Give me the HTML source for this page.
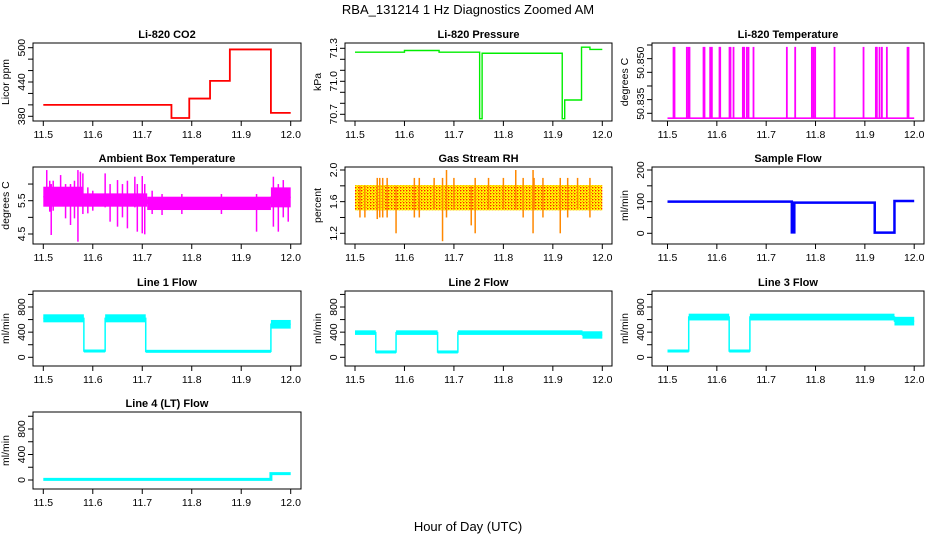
<!DOCTYPE html>
<html><head><meta charset="utf-8"><style>
body{margin:0;background:#fff}
svg{display:block;font-family:"Liberation Sans",Arial,sans-serif}
.t{font-size:11px;font-weight:bold;text-anchor:middle}
.k{font-size:10.5px;text-anchor:middle}
</style></head><body>
<svg id="c" width="936" height="540" viewBox="0 0 936 540">
<defs>
<pattern id="rhp" width="3" height="3" patternUnits="userSpaceOnUse"><rect width="3" height="3" fill="#ffff00"/><rect x="1" y="1" width="1.4" height="1.4" fill="#ff2000"/><rect x="0" y="0" width="0.8" height="0.8" fill="#ff6000"/></pattern>
</defs>
<text x="468" y="14" font-size="13" text-anchor="middle">RBA_131214  1 Hz Diagnostics Zoomed AM</text>
<text x="468" y="531" font-size="13" text-anchor="middle">Hour of Day (UTC)</text>
</svg>
<script>
// ---- data ----
const xTicks=[11.5,11.6,11.7,11.8,11.9,12.0];
const xTickLabels=["11.5","11.6","11.7","11.8","11.9","12.0"];
// CO2 steps
const co2Start=[11.5,11.759,11.795,11.837,11.877,11.96];
const co2End=[11.759,11.795,11.837,11.877,11.96,12.0];
const co2Val=[400,377,411,442,497,386];
// Pressure steps
const presStart=[11.5,11.6,11.67,11.752,11.757,11.919,11.924,11.958,11.975];
const presEnd=[11.6,11.67,11.752,11.757,11.919,11.924,11.958,11.975,12.0];
const presVal=[71.265,71.28,71.265,70.66,71.255,70.66,70.83,71.31,71.29];
// Temperature spikes
const tempBase=50.8282;
const tempSpikeVal=50.8543;
const tempSpikes=[11.5122,11.5142,11.5392,11.5426,11.5446,11.573,11.575,11.5865,11.5899,11.6054,11.6068,11.6257,11.6277,11.6338,11.6527,11.6554,11.6608,11.6642,11.6743,11.7419,11.7588,11.7926,11.7959,11.7993,11.8385,11.8973,11.9223,11.9243,11.9297,11.9345,11.9446,11.9865,11.9885];
// Ambient temperature band + spikes
const ambStart=[11.5,11.58,11.71,11.96];
const ambEnd=[11.58,11.71,11.96,12.0];
const ambLo=[5.32,5.32,5.22,5.3];
const ambHi=[5.92,5.72,5.62,5.9];
const ambSpikeX=[11.507,11.513,11.516,11.52,11.535,11.545,11.555,11.563,11.57,11.575,11.58,11.59,11.6,11.625,11.635,11.65,11.66,11.67,11.685,11.69,11.7,11.705,11.72,11.74,11.78,11.86,11.931,11.965,11.975,11.985,11.995];
const ambSpikeLo=[5.6,5.17,4.47,5.2,5.4,4.97,4.77,4.97,4.27,5.5,5.1,5.12,5.2,5.3,4.87,4.72,5.0,4.67,5.3,4.57,4.52,4.49,5.1,5.07,5.1,5.1,4.57,4.72,4.57,5.0,4.87];
const ambSpikeHi=[6.42,6.1,6.0,6.1,6.27,6.0,6.0,6.1,6.42,6.37,6.32,5.9,5.8,6.32,6.0,6.12,6.0,6.1,6.22,6.0,6.24,6.0,5.8,5.7,5.7,5.7,5.7,6.22,6.0,6.12,5.87];
// RH band + spikes
const rhStart=[11.5];
const rhEnd=[12.0];
const rhLo=[1.49];
const rhHi=[1.81];
const rhSpikeX=[11.51,11.52,11.545,11.55,11.556,11.565,11.583,11.62,11.63,11.66,11.677,11.685,11.7,11.735,11.743,11.77,11.8,11.825,11.84,11.86,11.862,11.88,11.915,11.93,11.95,11.975];
const rhSpikeLo=[1.4,1.4,1.38,1.4,1.4,1.4,1.2,1.4,1.4,1.5,1.1,1.4,1.5,1.3,1.2,1.5,1.5,1.5,1.4,1.2,1.5,1.4,1.2,1.4,1.5,1.4];
const rhSpikeHi=[1.8,1.8,1.9,1.9,1.9,1.9,1.8,1.9,1.9,1.9,1.9,2.0,1.9,1.8,1.9,1.9,1.9,2.0,1.9,2.0,1.9,1.9,1.9,1.9,1.9,1.9];
// Sample flow
const sfStart=[11.5,11.752,11.757,11.92,11.96];
const sfEnd=[11.752,11.757,11.92,11.96,12.0];
const sfVal=[100,3,97,2,102];
// Line flows
const l1Start=[11.5,11.582,11.625,11.707,11.96];
const l1End=[11.582,11.625,11.707,11.96,12.0];
const l1Lo=[580,100,580,95,480];
const l1Hi=[660,100,660,95,570];
const l2Start=[11.5,11.542,11.583,11.667,11.708,11.96];
const l2End=[11.542,11.583,11.667,11.708,11.96,12.0];
const l2Lo=[380,85,380,85,380,320];
const l2Hi=[405,85,405,85,405,390];
const l3Start=[11.5,11.543,11.625,11.667,11.96];
const l3End=[11.543,11.625,11.667,11.96,12.0];
const l3Lo=[100,610,100,610,530];
const l3Hi=[100,670,100,670,620];
const l4Start=[11.5,11.96];
const l4End=[11.96,12.0];
const l4Val=[10,100];

// ---- layout ----
const colBox=[[33,301,43.3,290.7],[345,612,355,602.3],[652,924,667.5,914.2]];
const rowBox=[[43,121],[167,244],[291,366],[412,489]];
const svg=document.getElementById('c');
const NS='http://www.w3.org/2000/svg';
function mk(tag,attrs,parent){const e=document.createElementNS(NS,tag);for(const k in attrs)e.setAttribute(k,attrs[k]);(parent||svg).appendChild(e);return e;}

function panel(name,title,ylab,col,row,v1,p1,v2,p2,yt,ylabels,ylabelVals){
  const [L,R,x0,x1]=colBox[col];const [T,B]=rowBox[row];
  const g=mk('g',{});
  
  
  const X=v=>x0+(v-11.5)/0.5*(x1-x0);
  const Y=v=>p1+(v-v1)/(v2-v1)*(p2-p1);
  const t=mk('text',{x:(L+R)/2,y:T-5,class:'t'},g);t.textContent=title;
  
  
  const yl=mk('text',{x:0,y:0,class:'k',transform:`translate(${L-24},${(T+B)/2}) rotate(-90)`},g);yl.textContent=ylab;
  
  
  xTicks.forEach((v,i)=>{mk('line',{x1:X(v),x2:X(v),y1:B,y2:B+5,stroke:'#000'},g);
    const tx=mk('text',{x:X(v),y:B+17,class:'k'},g);tx.textContent=xTickLabels[i];
    
    });
  yt.forEach(v=>mk('line',{x1:L-5,x2:L,y1:Y(v),y2:Y(v),stroke:'#000'},g));
  ylabels.forEach((s,i)=>{const tx=mk('text',{x:0,y:0,class:'k',transform:`translate(${L-8},${Y(ylabelVals[i])}) rotate(-90)`},g);tx.textContent=s;
    
    });
  const plot=mk('g',{},g);
  mk('rect',{x:L,y:T,width:R-L,height:B-T,fill:'none',stroke:'#000'},g);
  return {X,Y,plot};
}
function steps(p,s,e,v,color,w,name){
  let d='';for(let i=0;i<s.length;i++){d+=(i?'L':'M')+p.X(s[i])+','+p.Y(v[i])+'L'+p.X(e[i])+','+p.Y(v[i]);}
  const el=mk('path',{d,fill:'none',stroke:color,'stroke-width':w},p.plot);
  
  
}
function bands(p,s,e,lo,hi,color,w,name){
  let d='';
  for(let i=0;i<s.length;i++){
    const yTop=p.Y(hi[i]),yBot=p.Y(lo[i]);
    if(i>0){d+='L'+p.X(s[i])+','+((yTop+yBot)/2);}
    else d+='M'+p.X(s[i])+','+((yTop+yBot)/2);
    const r=mk('rect',{x:p.X(s[i]),y:Math.min(yTop,yBot)-w/2,width:p.X(e[i])-p.X(s[i]),height:Math.abs(yBot-yTop)+w,fill:color},p.plot);
    
    
    d+='L'+p.X(e[i])+','+((yTop+yBot)/2);
  }
  const el=mk('path',{d,fill:'none',stroke:color,'stroke-width':1.5},p.plot);
  
  
}
function spikes(p,xs,lo,hi,color,w,name){
  xs.forEach((x,i)=>{const l=mk('line',{x1:p.X(x),x2:p.X(x),y1:p.Y(lo[i]),y2:p.Y(hi[i]),stroke:color,'stroke-width':w},p.plot);
    
    });
}

// CO2
let p=panel('co2','Li-820 CO2','Licor ppm',0,0,380,116.3,500,47.7,[380,400,420,440,460,480,500],['380','440','500'],[380,440,500]);
steps(p,co2Start,co2End,co2Val,'#ff0000',1.8,'co2-line');
// Pressure
p=panel('pressure','Li-820 Pressure','kPa',1,0,70.7,114.3,71.3,48.3,[70.7,70.8,70.9,71.0,71.1,71.2,71.3],['70.7','71.0','71.3'],[70.7,71.0,71.3]);
steps(p,presStart,presEnd,presVal,'#00ee00',1.4,'pressure-line');
// Temperature
p=panel('temperature','Li-820 Temperature','degrees C',2,0,50.830,113.3,50.855,45,[50.830,50.835,50.840,50.845,50.850,50.855],['50.835','50.850'],[50.8335,50.8485]);
steps(p,[11.5],[12.0],[tempBase],'#ff00ff',1.6,'temperature-baseline');
spikes(p,tempSpikes,tempSpikes.map(()=>tempBase),tempSpikes.map(()=>tempSpikeVal),'#ff00ff',1.8,'temperature-spike');
// Ambient
p=panel('ambient','Ambient Box Temperature','degrees C',0,1,4.5,234,5.5,200.7,[4.5,5.0,5.5,6.0],['4.5','5.5'],[4.5,5.5]);
bands(p,ambStart,ambEnd,ambLo,ambHi,'#ff00ff',0,'ambient-band');
spikes(p,ambSpikeX,ambSpikeLo,ambSpikeHi,'#ff00ff',1.5,'ambient-spike');
// RH
p=panel('rh','Gas Stream RH','percent',1,1,1.2,233.3,2.0,170,[1.2,1.4,1.6,1.8,2.0],['1.2','1.6','2.0'],[1.2,1.6,2.0]);
bands(p,rhStart,rhEnd,rhLo,rhHi,'url(#rhp)',0,'rh-band');
spikes(p,rhSpikeX,rhSpikeLo,rhSpikeHi,'#ff8800',1.5,'rh-spike');
// Sample flow
p=panel('sample-flow','Sample Flow','ml/min',2,1,0,233.3,200,170,[0,50,100,150,200],['0','100','200'],[0,100,200]);
steps(p,sfStart,sfEnd,sfVal,'#0000ff',2.5,'sample-flow-line');
// Lines
const flowTicks=[0,200,400,600,800,1000];
p=panel('line1-flow','Line 1 Flow','ml/min',0,2,0,357.3,800,307,flowTicks,['0','400','800'],[0,400,800]);
bands(p,l1Start,l1End,l1Lo,l1Hi,'#00ffff',3,'line1-flow');
p=panel('line2-flow','Line 2 Flow','ml/min',1,2,0,357.3,800,307,flowTicks,['0','400','800'],[0,400,800]);
bands(p,l2Start,l2End,l2Lo,l2Hi,'#00ffff',3,'line2-flow');
p=panel('line3-flow','Line 3 Flow','ml/min',2,2,0,357.3,800,307,flowTicks,['0','400','800'],[0,400,800]);
bands(p,l3Start,l3End,l3Lo,l3Hi,'#00ffff',3,'line3-flow');
p=panel('line4-flow','Line 4 (LT) Flow','ml/min',0,3,0,480,800,429,flowTicks,['0','400','800'],[0,400,800]);
steps(p,l4Start,l4End,l4Val,'#00ffff',3,'line4-flow');
</script>
</body></html>
